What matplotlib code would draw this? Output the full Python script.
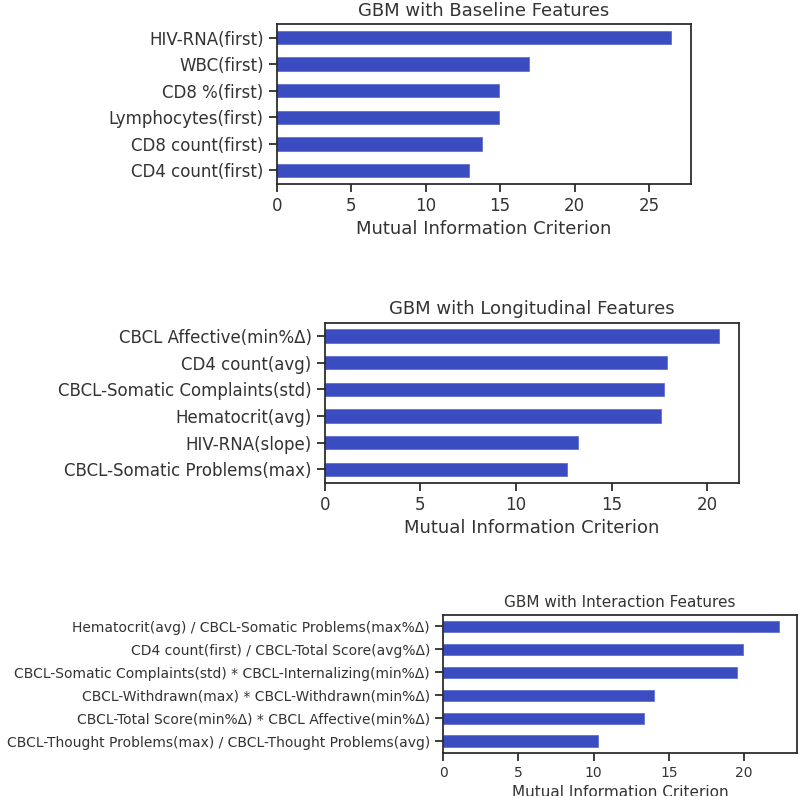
import numpy as np
import matplotlib
matplotlib.use('Agg')
import matplotlib.pyplot as plt
import seaborn as sns

sns.set_style('ticks')
plt.rcParams['font.family'] = ['DejaVu Sans']

# baseline features (top to bottom)
base_labels = ['HIV-RNA(first)', 'WBC(first)', 'CD8 %(first)',
               'Lymphocytes(first)', 'CD8 count(first)', 'CD4 count(first)']
base_vals = [26.48, 16.91, 14.92, 14.90, 13.80, 12.90]

# longitudinal features
long_labels = ['CBCL Affective(min%Δ)', 'CD4 count(avg)',
               'CBCL-Somatic Complaints(std)', 'Hematocrit(avg)',
               'HIV-RNA(slope)', 'CBCL-Somatic Problems(max)']
long_vals = [20.63, 17.91, 17.75, 17.58, 13.22, 12.69]

# interaction features
int_labels = ['Hematocrit(avg) / CBCL-Somatic Problems(max%Δ)',
              'CD4 count(first) / CBCL-Total Score(avg%Δ)',
              'CBCL-Somatic Complaints(std) * CBCL-Internalizing(min%Δ)',
              'CBCL-Withdrawn(max) * CBCL-Withdrawn(min%Δ)',
              'CBCL-Total Score(min%Δ) * CBCL Affective(min%Δ)',
              'CBCL-Thought Problems(max) / CBCL-Thought Problems(avg)']
int_vals = [22.29, 19.93, 19.54, 13.99, 13.33, 10.31]

bar_color = '#3a4cc0'
txt = '#333333'

fig = plt.figure(figsize=(8, 7.96), dpi=100)


def panel(rect, labels, vals, title, xmax, fs_tick, fs_lab, fs_title):
    ax = fig.add_axes(rect)
    y = np.arange(len(vals))[::-1]
    ax.barh(y, vals, height=0.5, color=bar_color, edgecolor='#5566cc', linewidth=0.5)
    ax.set_yticks(y)
    ax.set_yticklabels(labels)
    ax.set_ylim(-0.5, len(vals) - 0.5)
    ax.set_xlim(0, xmax)
    ax.set_xticks(np.arange(0, xmax, 5))
    ax.tick_params(axis='both', labelsize=fs_tick, labelcolor=txt, length=6, width=1.25,
                   color='#262626')
    for s in ax.spines.values():
        s.set_linewidth(1.25)
        s.set_color('#262626')
    ax.set_xlabel('Mutual Information Criterion', fontsize=fs_lab, color=txt)
    ax.set_title(title, fontsize=fs_title, color=txt, pad=6)
    return ax


panel([0.346, 0.7692, 0.518, 0.2003], base_labels, base_vals,
      'GBM with Baseline Features', 27.84, 12, 13, 13)
panel([0.406, 0.3936, 0.518, 0.201], long_labels, long_vals,
      'GBM with Longitudinal Features', 21.67, 12, 13, 13)
panel([0.554, 0.0544, 0.442, 0.173], int_labels, int_vals,
      'GBM with Interaction Features', 23.5, 10, 11, 11)

fig.savefig('out.png', dpi=100)
